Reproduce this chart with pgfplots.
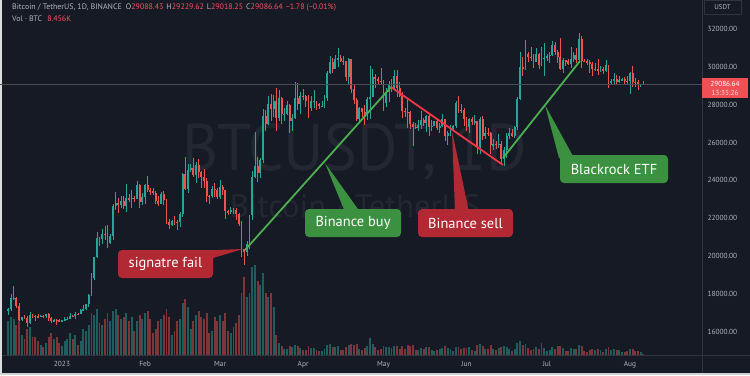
\documentclass[border=0pt]{standalone}
\usepackage{pgfplots}
\pgfplotsset{compat=1.18}
\usepackage{pgfplotstable}
\usepackage{fontspec}
\setmainfont{PT Sans}
\definecolor{bg}{RGB}{22,26,37}
\definecolor{upc}{RGB}{38,166,154}
\definecolor{dnc}{RGB}{239,83,80}
\definecolor{axtxt}{RGB}{178,181,190}
\definecolor{gline}{RGB}{76,175,80}
\definecolor{rline}{RGB}{242,54,69}
\definecolor{gbox}{RGB}{60,145,64}
\definecolor{rbox}{RGB}{178,40,51}
\definecolor{sep}{RGB}{48,52,64}
\definecolor{pricered}{RGB}{240,80,85}
\definecolor{hdrred}{RGB}{247,82,95}

\pgfplotstableread{
d o h l c v
-20 17090 17240 16870 17210 340
-19 17210 18000 17080 17775 380
-18 17775 18390 17660 17800 360
-17 17800 17850 17275 17355 300
-16 17355 17530 16560 16630 360
-15 16630 16800 16585 16780 200
-14 16780 16860 16660 16735 160
-13 16735 16820 16255 16440 260
-12 16440 17060 16395 16900 280
-11 16900 16920 16750 16825 180
-10 16825 16865 16560 16820 180
-9 16820 16955 16760 16780 140
-8 16780 16870 16770 16840 100
-7 16840 16860 16730 16830 80
-6 16830 16930 16745 16915 120
-5 16915 16970 16590 16705 180
-4 16705 16780 16460 16545 220
-3 16545 16665 16490 16635 160
-2 16635 16650 16335 16600 180
-1 16600 16650 16490 16540 120
0 16540 16630 16500 16615 90
1 16615 16795 16550 16670 140
2 16670 16775 16600 16680 160
3 16680 16990 16660 16850 220
4 16850 16880 16755 16830 160
5 16830 17040 16670 16950 200
6 16950 16980 16910 16940 100
7 16940 17175 16910 17125 140
8 17125 17400 17100 17180 260
9 17180 17490 17140 17440 240
10 17440 17990 17320 17945 300
11 17945 19120 17910 18845 420
12 18845 19970 18715 19930 400
13 19930 21260 19880 20955 460
14 20955 20990 20550 20880 320
15 20880 21440 20610 21185 300
16 21185 21600 20850 21135 360
17 21135 21650 20410 20675 420
18 20675 21190 20660 21070 340
19 21070 22750 20860 22670 440
20 22670 23375 22420 22780 460
21 22780 23080 22290 22710 400
22 22710 23170 22520 22920 360
23 22920 23160 22460 22630 380
24 22630 23815 22320 23060 420
25 23060 23290 22850 23010 340
26 23010 23500 22530 23075 380
27 23075 23165 22880 23030 240
28 23030 23950 23010 23745 340
29 23745 23810 22540 22830 400
30 22830 23320 22715 23125 360
31 23125 23810 22760 23730 420
32 23730 24255 23360 23490 440
33 23490 23585 23200 23430 360
34 23430 23570 23250 23325 220
35 23325 23435 22745 22930 260
36 22930 23160 22630 22765 340
37 22765 23365 22745 23265 360
38 23265 23450 22680 22960 400
39 22960 23010 21690 21795 460
40 21795 21940 21450 21625 380
41 21625 21900 21600 21860 200
42 21860 22090 21630 21785 240
43 21785 21880 21350 21775 340
44 21775 22320 21530 22200 360
45 22200 24380 22050 24330 520
46 24330 25250 23500 23525 560
47 23525 24880 23340 24570 480
48 24570 24890 24460 24630 260
49 24630 25200 24200 24280 340
50 24280 24980 23860 24835 400
51 24835 25125 24150 24440 440
52 24440 24470 23575 24190 380
53 24190 24600 23600 23945 360
54 23945 24140 22860 23190 420
55 23190 23220 22760 23160 220
56 23160 23690 23080 23555 240
57 23555 23880 23105 23490 380
58 23490 23600 23020 23140 340
59 23140 24000 23020 23630 400
60 23630 23780 23200 23470 340
61 23470 23480 21970 22355 420
62 22355 22410 22160 22345 240
63 22345 22610 22200 22430 220
64 22430 22550 22200 22410 280
65 22410 22530 21930 22200 320
66 22200 22270 21580 21705 400
67 21705 21830 19950 20365 620
68 20365 20370 19550 20190 780
69 20190 20800 19980 20630 580
70 20630 22190 20360 22160 620
71 22160 24500 21920 24200 880
72 24200 26550 24100 24750 900
73 24750 25250 23900 24380 740
74 24380 25200 24120 25050 700
75 25050 27750 24900 27420 820
76 27420 27730 26600 26970 620
77 26970 28480 26900 28040 580
78 28040 28550 27150 27770 620
79 27770 28500 27350 28170 480
80 28170 28870 26600 27310 200
81 27310 28750 27150 28330 120
82 28330 28400 27000 27490 90
83 27490 27800 27150 27495 60
84 27495 28200 27450 27990 60
85 27990 28050 26500 27140 90
86 27140 27500 26630 27270 80
87 27270 29180 27230 28350 100
88 28350 29170 27700 28030 90
89 28030 28660 27530 28480 70
90 28480 28820 28230 28460 50
91 28460 28530 27880 28200 50
92 28200 28500 27280 27800 90
93 27800 28440 27680 28170 70
94 28170 28770 27800 28180 70
95 28180 28190 27710 28040 50
96 28040 28100 27780 27920 40
97 27920 28180 27880 27950 40
98 27950 28530 27800 28330 60
99 28330 29770 28170 29650 100
100 29650 30550 29600 30240 110
101 30240 30490 29700 29890 80
102 29890 30620 29860 30390 80
103 30390 31000 29970 30490 90
104 30490 30620 30230 30320 50
105 30320 30550 30120 30315 50
106 30315 30330 29270 29450 80
107 29450 30490 29100 30390 100
108 30390 30420 28600 28820 110
109 28820 29100 28010 28250 100
110 28250 28370 27130 27260 110
111 27260 27880 27130 27820 60
112 27820 27820 27350 27590 50
113 27590 28000 26940 27510 70
114 27510 28400 27200 28300 90
115 28300 30020 27240 28430 170
116 28430 29890 28380 29480 110
117 29480 29600 28880 29340 80
118 29340 29450 29100 29250 50
119 29250 29960 29090 29230 60
120 29230 29330 27660 28070 90
121 28070 28880 27870 28680 80
122 28680 29270 28130 29030 80
123 29030 29380 28670 28850 70
124 28850 29850 28810 29530 90
125 29530 29840 28390 28900 90
126 28900 29180 28380 28450 60
127 28450 28660 27280 27690 90
128 27690 27830 27370 27630 60
129 27630 28340 26770 27620 100
130 27620 27640 26700 26990 90
131 26990 27060 25810 26810 100
132 26810 27030 26710 26790 50
133 26790 27200 26600 26930 50
134 26930 27660 26740 27170 70
135 27170 27280 26850 27030 60
136 27030 27480 26570 27400 80
137 27400 27480 26370 26830 80
138 26830 27190 26630 26890 50
139 26890 27160 26850 27120 40
140 27120 27260 26660 26750 50
141 26750 27050 26520 26850 60
142 26850 27500 26800 27220 70
143 27220 27220 26080 26330 90
144 26330 26620 25870 26480 70
145 26480 26930 26340 26720 60
146 26720 26900 26600 26870 40
147 26870 28200 26780 28080 80
148 28080 28450 27560 27740 80
149 27740 28050 27560 27700 60
150 27700 27840 26850 27220 70
151 27220 27350 26600 26820 70
152 26820 27300 26510 27250 80
153 27250 27340 26930 27070 50
154 27070 27450 26950 27120 40
155 27120 27130 25390 25760 100
156 25760 27350 25380 27240 110
157 27240 27400 26120 26350 90
158 26350 26810 26210 26500 60
159 26500 26790 26320 26480 60
160 26480 26540 25370 25850 100
161 25850 26200 25620 25940 60
162 25940 26100 25640 25900 50
163 25900 26430 25730 25920 70
164 25920 26080 24820 25120 80
165 25120 25750 24750 25580 90
166 25580 26480 25170 26340 80
167 26340 26770 26170 26510 60
168 26510 26690 26300 26340 40
169 26340 26890 26260 26840 60
170 26840 28400 26670 28310 120
171 28310 30800 28270 30000 140
172 30000 30500 29530 29890 100
173 29890 31430 29820 30690 110
174 30690 30800 30250 30540 70
175 30540 31050 30320 30470 50
176 30470 30660 29930 30270 60
177 30270 31010 30230 30690 80
178 30690 30710 29900 30080 60
179 30080 31060 30040 30450 120
180 30450 31280 29500 30470 70
181 30470 30660 30320 30590 40
182 30590 30780 30180 30620 50
183 30620 31390 30560 31160 80
184 31160 31330 30640 30770 60
185 30770 30880 30200 30500 90
186 30500 31500 29850 29900 90
187 29900 30450 29700 30350 70
188 30350 30380 30050 30290 40
189 30290 30440 30080 30170 40
190 30170 31040 29950 30410 70
191 30410 30800 30280 30620 60
192 30620 30990 30200 30380 60
193 30380 31800 30250 31450 100
194 31450 31630 29950 30310 90
195 30310 30390 30250 30290 40
196 30290 30440 30080 30230 30
197 30230 30340 29660 30140 50
198 30140 30230 29500 29860 60
199 29860 30190 29760 29910 50
200 29910 30410 29570 29800 60
201 29800 30060 29720 29910 50
202 29910 29990 29640 29790 30
203 29790 30340 29740 30080 60
204 30080 30100 28860 29170 80
205 29170 29380 29030 29230 50
206 29230 29690 29100 29350 60
207 29350 29570 29060 29210 50
208 29210 29530 29120 29310 50
209 29310 29410 29260 29350 30
210 29350 29450 29030 29270 30
211 29270 29520 29110 29230 40
212 29230 29740 28590 29700 60
213 29700 30050 28920 29180 60
214 29180 29410 28960 29175 40
215 29175 29310 28750 29080 40
216 29080 29110 28960 29088.43 30
217 29088.43 29229.62 29018.25 29086.64 8.456
}\candles

\begin{document}
\begin{tikzpicture}[x=1bp,y=1bp]
\fill[bg] (0,-20) rectangle (750,355);
% watermark (image pixel coordinates: y_img -> 355 - y_img)
\begin{scope}[shift={(0,355)},yscale=-1]
\node[anchor=base, inner sep=0, text=white, text opacity=0.06] at (355,170) {\resizebox{344bp}{47bp}{BTCUSDT, 1D}};
\node[anchor=base, inner sep=0, text=white, text opacity=0.06] at (355,217) {\resizebox{250bp}{!}{Bitcoin / TetherUS}};
\end{scope}

% volume
\begin{axis}[at={(0,0)}, anchor=south west, scale only axis,
  width=702bp, height=355bp,
  xmin=-23.14, xmax=238.9, ymin=0, ymax=3550, hide axis]
\addplot[ycomb, mark=none, draw=upc!48!bg, line width=1.9bp,
  restrict expr to domain={\thisrow{c}-\thisrow{o}}{0:1000000}]
  table[x=d, y=v] {\candles};
\addplot[ycomb, mark=none, draw=dnc!48!bg, line width=1.9bp,
  restrict expr to domain={\thisrow{o}-\thisrow{c}}{0.001:1000000}]
  table[x=d, y=v] {\candles};
\end{axis}

% price
\begin{axis}[at={(0,0)}, anchor=south west, scale only axis,
  width=702bp, height=355bp,
  xmin=-23.14, xmax=238.9, ymin=14769, ymax=33533,
  axis line style={draw=none}, tick style={draw=none},
  xtick={0,31,59,90,120,151,181,212},
  xticklabels={2023,Feb,Mar,Apr,May,Jun,Jul,Aug},
  ytick={16000,18000,...,32000},
  yticklabel pos=right, scaled y ticks=false,
  /pgf/number format/assume math mode=true,
  ticklabel style={font=\fontsize{7.4}{8}\selectfont, text=axtxt},
  yticklabel style={xshift=2bp, /pgf/number format/fixed, /pgf/number format/fixed zerofill, /pgf/number format/precision=2, /pgf/number format/1000 sep={}},
  xticklabel style={yshift=-3bp},
]
% wicks up
\addplot[draw=none, mark=none, forget plot,
  restrict expr to domain={\thisrow{c}-\thisrow{o}}{0:1000000},
  error bars/.cd, y dir=both, y explicit, error mark=none,
  error bar style={draw=upc, line width=0.6bp, solid}]
  table[x=d, y expr={(\thisrow{h}+\thisrow{l})/2}, y error expr={(\thisrow{h}-\thisrow{l})/2}] {\candles};
% bodies up
\addplot[draw=none, mark=none, forget plot,
  restrict expr to domain={\thisrow{c}-\thisrow{o}}{0:1000000},
  error bars/.cd, y dir=both, y explicit, error mark=none,
  error bar style={draw=upc, line width=1.9bp, solid}]
  table[x=d, y expr={(\thisrow{o}+\thisrow{c})/2}, y error expr={max(abs(\thisrow{c}-\thisrow{o})/2,12)}] {\candles};
% wicks down
\addplot[draw=none, mark=none, forget plot,
  restrict expr to domain={\thisrow{o}-\thisrow{c}}{0.001:1000000},
  error bars/.cd, y dir=both, y explicit, error mark=none,
  error bar style={draw=dnc, line width=0.6bp, solid}]
  table[x=d, y expr={(\thisrow{h}+\thisrow{l})/2}, y error expr={(\thisrow{h}-\thisrow{l})/2}] {\candles};
% bodies down
\addplot[draw=none, mark=none, forget plot,
  restrict expr to domain={\thisrow{o}-\thisrow{c}}{0.001:1000000},
  error bars/.cd, y dir=both, y explicit, error mark=none,
  error bar style={draw=dnc, line width=1.9bp, solid}]
  table[x=d, y expr={(\thisrow{o}+\thisrow{c})/2}, y error expr={max(abs(\thisrow{c}-\thisrow{o})/2,12)}] {\candles};
\end{axis}

% overlays in image pixel coordinates
\begin{scope}[shift={(0,355)},yscale=-1]
% separators
\draw[sep, line width=0.8bp] (702,0) -- (702,375);
\draw[sep, line width=0.8bp] (0,355) -- (750,355);
\fill[white!85!bg] (0,0) rectangle (2,375);
\fill[white!80!bg] (0,373) rectangle (750,375);
% current price line
\draw[white!22!bg, line width=0.6bp] (0,84.1) -- (702,84.1);
\fill[pricered] (702,78) rectangle (748,97.5);
\node[text=white, font=\fontsize{7.3}{8}\selectfont, inner sep=0] at (725,83.5) {29086.64};
\node[text=white!80!pricered, font=\fontsize{7.3}{8}\selectfont, inner sep=0] at (725,92.5) {13:35:26};
% USDT box
\draw[sep, line width=0.6bp, fill=bg] (704,0.5) rectangle (741,14);
\node[text=axtxt, font=\fontsize{7}{8}\selectfont, inner sep=0] at (722.5,7.5) {USDT};
% header
\node[anchor=base west, inner sep=0, text=axtxt, font=\fontsize{8}{9}\selectfont] at (12,9)
 {Bitcoin / TetherUS, 1D, BINANCE\hspace{4bp}O\textcolor{hdrred}{29088.43}\hspace{3bp}H\textcolor{hdrred}{29229.62}\hspace{3bp}L\textcolor{hdrred}{29018.25}\hspace{3bp}C\textcolor{hdrred}{29086.64}\hspace{3bp}\textcolor{hdrred}{−1.78 (−0.01\%)}};
\node[anchor=base west, inner sep=0, text=axtxt, font=\fontsize{8}{9}\selectfont] at (12,21)
 {Vol · BTC\hspace{5bp}\textcolor{hdrred}{8.456K}};
% trend lines
\draw[gline, line width=1.8bp] (245,250) -- (391,87);
\draw[rline, line width=1.8bp] (391,87) -- (503,165);
\draw[gline, line width=1.8bp] (503,158) -- (580,61);
% callouts
\fill[rbox] (243,249) -- (190,251) -- (213,258) -- cycle;
\fill[rbox, rounded corners=4bp] (118,250) rectangle (213,278);
\node[text=white, font=\fontsize{14.5}{16}\selectfont] at (165.5,264) {signatre fail};
\fill[gbox] (325,163) -- (345,212) -- (360,212) -- cycle;
\fill[gbox, rounded corners=4bp] (305,209) rectangle (401,237);
\node[text=white, font=\fontsize{14.5}{16}\selectfont] at (353,223) {Binance buy};
\fill[rbox] (452,131) -- (455,212) -- (469,212) -- cycle;
\fill[rbox, rounded corners=4bp] (418,209) rectangle (513,237);
\node[text=white, font=\fontsize{14.5}{16}\selectfont] at (465.5,223) {Binance sell};
\fill[gbox] (545,105) -- (559,158) -- (574,158) -- cycle;
\fill[gbox, rounded corners=4bp] (560,155) rectangle (668,183);
\node[text=white, font=\fontsize{14.5}{16}\selectfont] at (614,169) {Blackrock ETF};
\end{scope}
\pgfresetboundingbox
\useasboundingbox (0,-20) rectangle (750,355);
\end{tikzpicture}
\end{document}
